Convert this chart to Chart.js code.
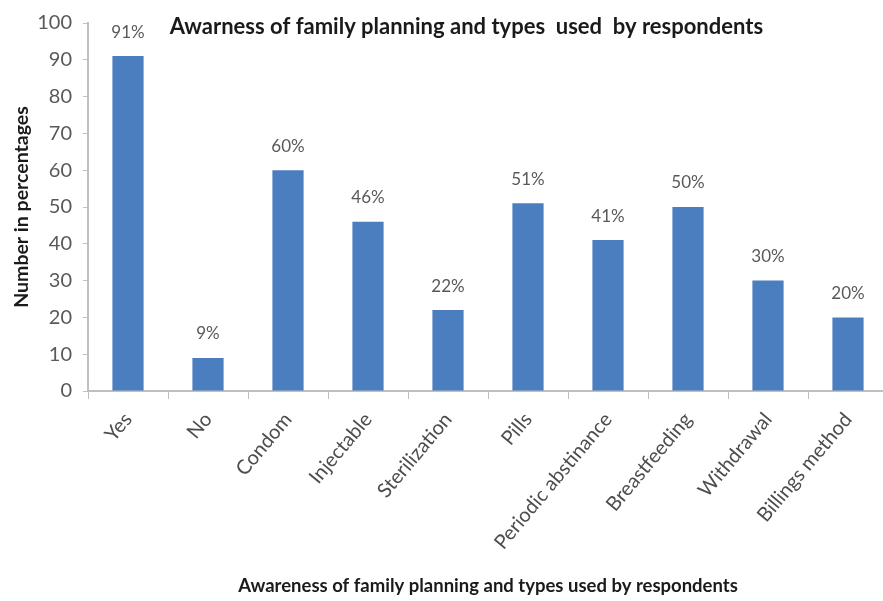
<!DOCTYPE html>
<html>
<head>
<meta charset="utf-8">
<script src="https://cdn.jsdelivr.net/npm/chart.js@4.4.1/dist/chart.umd.min.js"></script>
<style>
  html, body { margin: 0; padding: 0; background: #fff; overflow: hidden; }
  #wrap { width: 890px; height: 601px; position: relative; }
</style>
</head>
<body>
<div id="wrap"><canvas id="c"></canvas></div>
<script>
// Categories and percentages
const categories = ['Yes', 'No', 'Condom', 'Injectable', 'Sterilization', 'Pills',
  'Periodic abstinance', 'Breastfeeding', 'Withdrawal', 'Billings method'];
const percentages = [91, 9, 60, 46, 22, 51, 41, 50, 30, 20];
const yTicks = [0, 10, 20, 30, 40, 50, 60, 70, 80, 90, 100];

const chartTitle = 'Awarness of family planning and types  used  by respondents';
const xTitle = 'Awareness of family planning and types used by respondents';
const yTitle = 'Number in percentages';

const FONT = 'Lato, "Open Sans", sans-serif';

// Value labels above each bar
const valueLabels = {
  id: 'valueLabels',
  afterDatasetsDraw(chart) {
    const ctx = chart.ctx;
    const meta = chart.getDatasetMeta(0);
    ctx.save();
    ctx.font = '17px ' + FONT;
    ctx.fillStyle = '#595959';
    ctx.textAlign = 'center';
    ctx.textBaseline = 'middle';
    meta.data.forEach((bar, i) => {
      ctx.fillText(percentages[i] + '%', bar.x, bar.y - 24);
    });
    ctx.restore();
  }
};

// Chart heading, set inside the top of the plot
const heading = {
  id: 'heading',
  afterDraw(chart) {
    const ctx = chart.ctx;
    const area = chart.chartArea;
    ctx.save();
    ctx.font = 'bold 22px ' + FONT;
    ctx.fillStyle = '#1a1a1a';
    ctx.textAlign = 'center';
    ctx.textBaseline = 'middle';
    ctx.fillText(chartTitle, area.left + (area.right - area.left) * 0.473, area.top + 4);
    ctx.restore();
  }
};

new Chart(document.getElementById('c'), {
  type: 'bar',
  data: {
    labels: categories,
    datasets: [{
      data: percentages,
      backgroundColor: '#4a7ebf',
      borderWidth: 0,
      categoryPercentage: 1.0,
      barPercentage: 0.39
    }]
  },
  options: {
    responsive: true,
    maintainAspectRatio: false,
    animation: false,
    layout: { padding: { top: 20, right: 2, left: 0, bottom: 0 } },
    plugins: {
      legend: { display: false },
      tooltip: { enabled: false }
    },
    scales: {
      x: {
        grid: {
          display: true,
          drawOnChartArea: false,
          drawTicks: true,
          tickLength: 8,
          color: '#bfbfbf',
          offset: true
        },
        border: { display: true, color: '#bfbfbf', width: 2 },
        ticks: {
          minRotation: 50,
          maxRotation: 50,
          padding: 9,
          color: '#4d4d4d',
          font: { family: FONT, size: 20 }
        },
        title: {
          display: true,
          text: xTitle,
          color: '#1a1a1a',
          font: { family: FONT, size: 18.5, weight: 'bold' },
          padding: { top: 4, bottom: 4 }
        },
        afterFit(scale) { scale.height = 210; }
      },
      y: {
        min: 0,
        max: 100,
        afterBuildTicks(scale) { scale.ticks = yTicks.map(v => ({ value: v })); },
        grid: {
          display: true,
          drawOnChartArea: false,
          drawTicks: true,
          tickLength: 5,
          color: '#bfbfbf'
        },
        border: { display: true, color: '#bfbfbf', width: 2 },
        ticks: {
          padding: 11,
          color: '#595959',
          font: { family: FONT, size: 20 }
        },
        title: {
          display: true,
          text: yTitle,
          color: '#1a1a1a',
          font: { family: FONT, size: 19.5, weight: 'bold' },
          padding: { top: 10, bottom: 0 }
        },
        afterFit(scale) { scale.width = 88; }
      }
    }
  },
  plugins: [valueLabels, heading]
});
</script>
</body>
</html>
